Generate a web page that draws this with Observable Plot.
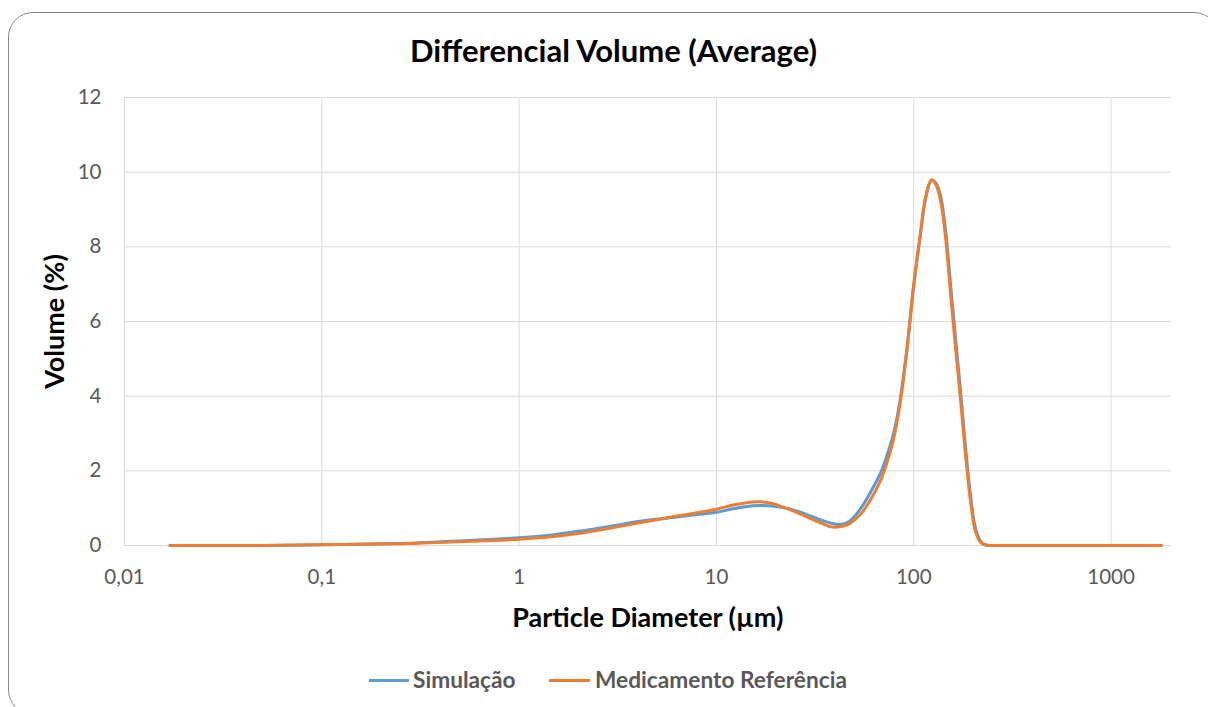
<!DOCTYPE html>
<html>
<head>
<meta charset="utf-8">
<script src="https://cdn.jsdelivr.net/npm/d3@7"></script>
<script src="https://cdn.jsdelivr.net/npm/@observablehq/plot@0.6"></script>
<style>
  html, body { margin: 0; padding: 0; background: #fff; }
  #chart { position: relative; width: 1208px; height: 707px; overflow: hidden; font-family: Lato, "Open Sans", sans-serif; }
  #frame { position: absolute; left: 8px; top: 12px; width: 1211px; height: 703px; border: 1.2px solid #8a8a8a; border-radius: 25px; box-sizing: border-box; }
  #title { position: absolute; left: 8px; width: 1211px; top: 34px; height: 32px; line-height: 32px; text-align: center; font-weight: bold; font-size: 31px; color: #000; }
  #plot { position: absolute; left: 0; top: 85px; }
  .swatch { position: absolute; height: 3px; top: 678.5px; }
  .leglabel { position: absolute; top: 667px; height: 26px; line-height: 26px; font-size: 22.7px; font-weight: bold; color: #595959; white-space: nowrap; }
</style>
</head>
<body>
<div id="chart">
  <div id="frame"></div>
  <div id="title"></div>
  <div id="plot"></div>
  <div id="legend"></div>
</div>
<script>
// Particle size classes (µm) shared by both distributions
const sizes = [0.017, 0.05, 0.1, 0.2, 0.3, 0.5, 0.7, 1, 1.5, 2, 3, 4, 6, 8, 10, 12, 14, 16.5, 19, 22, 26, 30, 34, 38, 42, 47, 54, 60, 68, 73, 79, 85, 92, 100, 108, 115, 123, 130, 137, 145, 154, 163, 173, 183, 194, 205, 218, 230, 245, 300, 500, 1000, 1800];

// Differential volume (%) per size class
const simulacao = [0, 0, 0.02, 0.05, 0.07, 0.12, 0.16, 0.21, 0.29, 0.38, 0.53, 0.64, 0.75, 0.83, 0.89, 0.98, 1.04, 1.07, 1.06, 1.01, 0.91, 0.79, 0.68, 0.6, 0.56, 0.64, 1.0, 1.4, 1.95, 2.4, 3.0, 3.85, 5.2, 6.95, 8.3, 9.3, 9.78, 9.7, 9.35, 8.45, 6.95, 5.55, 4.1, 2.65, 1.35, 0.5, 0.12, 0.02, 0, 0, 0, 0, 0];
const referencia = [0, 0, 0.02, 0.04, 0.06, 0.1, 0.13, 0.17, 0.24, 0.32, 0.48, 0.6, 0.77, 0.88, 0.97, 1.08, 1.14, 1.17, 1.13, 1.02, 0.87, 0.72, 0.6, 0.5, 0.5, 0.58, 0.85, 1.2, 1.75, 2.2, 2.85, 3.75, 5.15, 7.0, 8.35, 9.35, 9.8, 9.65, 9.22, 8.25, 6.7, 5.28, 3.85, 2.43, 1.18, 0.4, 0.09, 0.02, 0, 0, 0, 0, 0];

const seriesNames = ["Simulação", "Medicamento Referência"];
const seriesColors = ["#5B9BD5", "#ED7D31"];

// Axis ticks and their labels (decimal comma)
const xTicks = [0.01, 0.1, 1, 10, 100, 1000];
const xTickLabels = ["0,01", "0,1", "1", "10", "100", "1000"];
const yTicks = [0, 2, 4, 6, 8, 10, 12];

const titleText = "Differencial Volume (Average)";
const xLabel = "Particle Diameter (µm)";
const yLabel = "Volume (%)";

const rows = [simulacao, referencia].flatMap((vals, i) =>
  sizes.map((s, j) => ({size: s, volume: vals[j], series: seriesNames[i]}))
);

document.getElementById("title").textContent = titleText;

const chart = Plot.plot({
  width: 1208,
  height: 560,
  marginLeft: 124,
  marginRight: 37.3,
  marginTop: 12,
  marginBottom: 100,
  style: {fontFamily: "Lato, 'Open Sans', sans-serif", fontSize: "20.5px", color: "#595959", background: "transparent"},
  x: {type: "log", domain: [0.01, 2018]},
  y: {domain: [0, 12]},
  color: {domain: seriesNames, range: seriesColors},
  marks: [
    Plot.ruleY(yTicks, {stroke: "#d9d9d9", strokeWidth: 1}),
    Plot.ruleX(xTicks, {stroke: "#d9d9d9", strokeWidth: 1}),
    Plot.axisX(xTicks, {tickSize: 0, tickPadding: 24, tickFormat: d => xTickLabels[xTicks.indexOf(d)], label: null, fill: "#595959"}),
    Plot.axisY(yTicks, {tickSize: 0, tickPadding: 23, label: null, fill: "#595959"}),
    Plot.line(rows, {x: "size", y: "volume", z: "series", stroke: "series", strokeWidth: 3, curve: "catmull-rom"}),
    Plot.text([xLabel], {text: d => d, frameAnchor: "bottom", lineAnchor: "middle", textAnchor: "middle", dy: 73, fontWeight: "bold", fontSize: 27, fill: "#000"}),
    Plot.text([yLabel], {text: d => d, frameAnchor: "left", lineAnchor: "middle", textAnchor: "middle", dx: -69, rotate: -90, fontWeight: "bold", fontSize: 27, fill: "#000"})
  ]
});
document.getElementById("plot").appendChild(chart);

// Legend below the plot
const legend = document.getElementById("legend");
const legendLayout = [{swatch: 369, width: 40, text: 413}, {swatch: 549, width: 41, text: 595}];
seriesNames.forEach((name, i) => {
  const sw = document.createElement("div");
  sw.className = "swatch";
  sw.style.left = legendLayout[i].swatch + "px";
  sw.style.width = legendLayout[i].width + "px";
  sw.style.background = seriesColors[i];
  legend.appendChild(sw);
  const lab = document.createElement("div");
  lab.className = "leglabel";
  lab.style.left = legendLayout[i].text + "px";
  lab.textContent = name;
  legend.appendChild(lab);
});
</script>
</body>
</html>
